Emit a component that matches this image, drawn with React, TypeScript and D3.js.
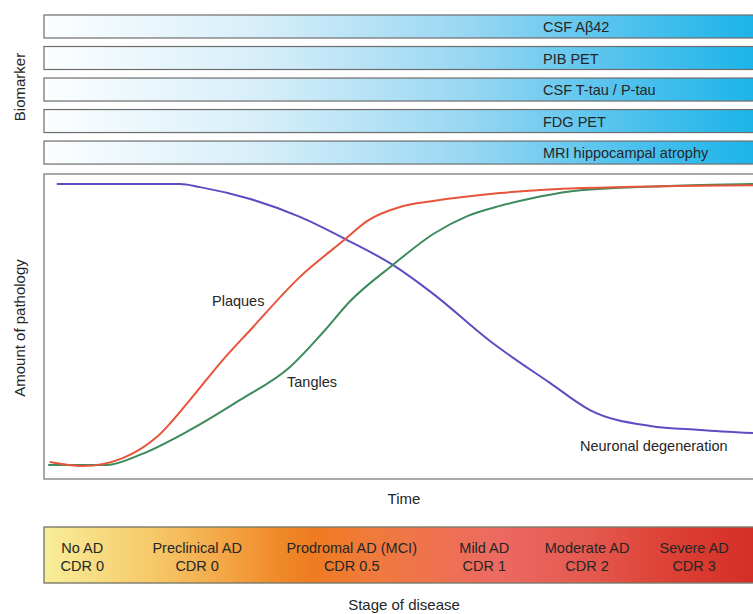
import React, { useEffect, useRef } from "react";
import * as d3 from "d3";

// biomarker rows (top panel)
const biomarkers = [
  "CSF Aβ42",
  "PIB PET",
  "CSF T-tau / P-tau",
  "FDG PET",
  "MRI hippocampal atrophy",
];

// curves: time (0-100) vs amount of pathology (0-100)
const plaquesTime = [0.8, 5.5, 11.1, 15.9, 20.6, 25.2, 29.1, 36.1, 42.5, 45.6, 50.2, 54.9, 64.3, 76.0, 100];
const plaquesAmount = [2.1, 0.7, 3.5, 10.9, 24.0, 38.0, 48.6, 67.3, 80.6, 87.0, 91.9, 94.0, 96.8, 98.6, 99.6];

const tanglesTime = [0.6, 8.9, 13.5, 20.6, 27.6, 34.7, 39.4, 43.2, 49.2, 54.9, 59.7, 64.3, 69.0, 76.0, 100];
const tanglesAmount = [1.1, 1.1, 4.6, 13.4, 23.9, 35.6, 47.9, 58.8, 71.5, 82.4, 88.7, 92.3, 95.1, 97.9, 100];

const neuronTime = [1.8, 19.2, 22.0, 29.1, 36.1, 42.5, 49.2, 54.9, 62.9, 71.4, 77.0, 85.5, 92.5, 100];
const neuronAmount = [100, 100, 98.9, 94.7, 88.4, 80.6, 71.5, 61.3, 44.7, 29.9, 20.4, 14.8, 13.4, 12.3];

// disease stages (bottom panel), placed at their time midpoint
const stageNames = ["No AD", "Preclinical AD", "Prodromal AD (MCI)", "Mild AD", "Moderate AD", "Severe AD"];
const stageCdr = ["CDR 0", "CDR 0", "CDR 0.5", "CDR 1", "CDR 2", "CDR 3"];
const stageTime = [5.4, 21.6, 43.4, 62.1, 76.6, 91.7];

const W = 753;
const H = 614;
const FONT = "'Liberation Sans', Arial, Helvetica, sans-serif";
const TEXT = "#262626";

const App: React.FC = () => {
  const svgRef = useRef<SVGSVGElement | null>(null);

  useEffect(() => {
    const svg = d3.select(svgRef.current);
    svg.selectAll("*").remove();

    const x = d3.scaleLinear().domain([0, 100]).range([44, 753]);
    const y = d3.scaleLinear().domain([0, 100]).range([468, 184]);

    const defs = svg.append("defs");

    const blue = defs
      .append("linearGradient")
      .attr("id", "bioGrad")
      .attr("x1", "0%")
      .attr("x2", "100%");
    [
      [0, "#fcfeff"],
      [0.3, "#d6eef9"],
      [0.58, "#98d7f2"],
      [0.78, "#55c3ee"],
      [1, "#14b2e8"],
    ].forEach(([o, c]) => blue.append("stop").attr("offset", o as number).attr("stop-color", c as string));

    const warm = defs
      .append("linearGradient")
      .attr("id", "stageGrad")
      .attr("x1", "0%")
      .attr("x2", "100%");
    [
      [0, "#f8ee9a"],
      [0.15, "#f6c868"],
      [0.22, "#f4b050"],
      [0.32, "#f08a2a"],
      [0.37, "#ef7b22"],
      [0.45, "#f07a3c"],
      [0.55, "#ee7152"],
      [0.62, "#ec6a62"],
      [0.74, "#e55a50"],
      [0.85, "#dd4236"],
      [1, "#d22a22"],
    ].forEach(([o, c]) => warm.append("stop").attr("offset", o as number).attr("stop-color", c as string));

    // biomarker bars
    const bio = svg.append("g");
    const rowY = d3.scaleBand<number>().domain(d3.range(biomarkers.length)).range([15, 165]).paddingInner(0.24).paddingOuter(0);
    biomarkers.forEach((name, i) => {
      const top = rowY(i) as number;
      bio
        .append("rect")
        .attr("x", 44)
        .attr("y", top)
        .attr("width", 730)
        .attr("height", 23)
        .attr("fill", "url(#bioGrad)")
        .attr("stroke", "#6d6d6d")
        .attr("stroke-width", 1.2);
      bio
        .append("text")
        .attr("x", 543)
        .attr("y", top + 17)
        .attr("font-size", 14.5)
        .attr("font-family", FONT)
        .attr("fill", TEXT)
        .text(name);
    });

    svg
      .append("text")
      .attr("transform", "translate(25,87) rotate(-90)")
      .attr("text-anchor", "middle")
      .attr("font-size", 15)
      .attr("font-family", FONT)
      .attr("fill", TEXT)
      .text("Biomarker");

    // plot frame
    svg
      .append("rect")
      .attr("x", 44)
      .attr("y", 174)
      .attr("width", 730)
      .attr("height", 305)
      .attr("fill", "none")
      .attr("stroke", "#949494")
      .attr("stroke-width", 1.6);

    const line = d3
      .line<[number, number]>()
      .x((d) => x(d[0]))
      .y((d) => y(d[1]))
      .curve(d3.curveMonotoneX);

    const series = [
      { t: neuronTime, a: neuronAmount, color: "#5a4ec2" },
      { t: tanglesTime, a: tanglesAmount, color: "#3d8a5c" },
      { t: plaquesTime, a: plaquesAmount, color: "#e8543a" },
    ];
    series.forEach((s) => {
      svg
        .append("path")
        .datum(s.t.map((t, i) => [t, s.a[i]] as [number, number]))
        .attr("d", line)
        .attr("fill", "none")
        .attr("stroke", s.color)
        .attr("stroke-width", 2);
    });

    const labels: [string, number, number][] = [
      ["Plaques", 212, 306],
      ["Tangles", 287, 387],
      ["Neuronal degeneration", 580, 451],
    ];
    labels.forEach(([txt, lx, ly]) => {
      svg
        .append("text")
        .attr("x", lx)
        .attr("y", ly)
        .attr("font-size", 14.5)
        .attr("font-family", FONT)
        .attr("fill", TEXT)
        .text(txt);
    });

    svg
      .append("text")
      .attr("transform", "translate(25,328) rotate(-90)")
      .attr("text-anchor", "middle")
      .attr("font-size", 15)
      .attr("font-family", FONT)
      .attr("fill", TEXT)
      .text("Amount of pathology");

    svg
      .append("text")
      .attr("x", 404)
      .attr("y", 504)
      .attr("text-anchor", "middle")
      .attr("font-size", 15)
      .attr("font-family", FONT)
      .attr("fill", TEXT)
      .text("Time");

    // stage bar
    svg
      .append("rect")
      .attr("x", 44)
      .attr("y", 527)
      .attr("width", 730)
      .attr("height", 56)
      .attr("fill", "url(#stageGrad)")
      .attr("stroke", "#7a7a6a")
      .attr("stroke-width", 1.4);

    const stages = svg.append("g");
    stageNames.forEach((name, i) => {
      const cx = x(stageTime[i]);
      const t = stages
        .append("text")
        .attr("text-anchor", "middle")
        .attr("font-size", 14.5)
        .attr("font-family", FONT)
        .attr("fill", TEXT);
      t.append("tspan").attr("x", cx).attr("y", 553).text(name);
      t.append("tspan").attr("x", cx).attr("y", 571).text(stageCdr[i]);
    });

    svg
      .append("text")
      .attr("x", 404)
      .attr("y", 610)
      .attr("text-anchor", "middle")
      .attr("font-size", 15)
      .attr("font-family", FONT)
      .attr("fill", TEXT)
      .text("Stage of disease");
  }, []);

  return (
    <svg
      ref={svgRef}
      width={W}
      height={H}
      style={{ position: "absolute", left: 0, top: 0, background: "#fff" }}
    ></svg>
  );
};

export default App;
